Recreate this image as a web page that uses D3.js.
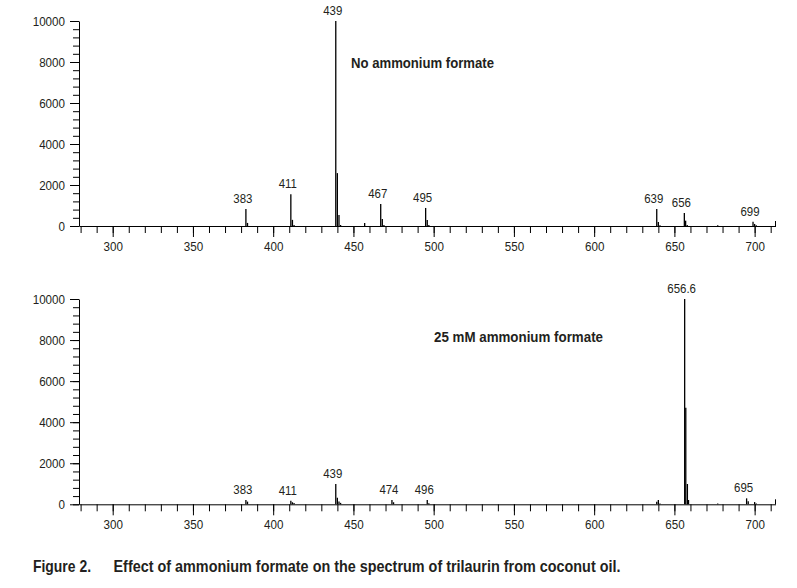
<!DOCTYPE html>
<html><head><meta charset="utf-8">
<script src="https://cdn.jsdelivr.net/npm/d3@7"></script>
<style>
body{margin:0;background:#fff;}
text{font-family:"Liberation Sans",Arial,sans-serif;fill:#231f20;}
</style></head>
<body><svg id="c" width="797" height="588"></svg>
<script>
// ---- data ----
const xMajorTicks = [300, 350, 400, 450, 500, 550, 600, 650, 700];
const yTicks = [0, 2000, 4000, 6000, 8000, 10000];

const topMz = [383, 384, 411, 412, 413, 439, 440, 441, 442, 457, 467, 468, 469, 495, 496, 497, 639, 640, 641, 656.2, 657, 658, 677, 699, 700, 701];
const topIntensity = [830, 150, 1550, 300, 50, 10000, 2580, 540, 50, 150, 1070, 340, 50, 880, 290, 50, 830, 200, 40, 630, 260, 50, 40, 210, 100, 40];
const topLabelText = ["383", "411", "439", "467", "495", "639", "656", "699"];
const topLabelMz = [383, 411, 439, 467, 495, 639, 656.2, 699];
const topTitle = "No ammonium formate";

const botMz = [383, 384, 411, 412, 413, 439, 440, 441, 442, 474, 475, 496, 497, 639, 640, 641, 656.4, 657.1, 658.1, 658.8, 677, 695, 696, 700, 701];
const botIntensity = [210, 130, 175, 100, 60, 990, 320, 140, 70, 210, 100, 210, 50, 120, 210, 40, 10000, 4700, 990, 210, 40, 290, 150, 110, 40];
const botLabelText = ["383", "411", "439", "474", "496", "656.6", "695"];
const botLabelMz = [383, 411, 439, 474, 496, 656.4, 695];
const botTitle = "25 mM ammonium formate";

const captionNum = "Figure 2.";
const captionText = "Effect of ammonium formate on the spectrum of trilaurin from coconut oil.";

// ---- drawing ----
const svg = d3.select("#c");
const x = d3.scaleLinear().domain([279, 713]).range([79, 775.5]);

// squeeze text horizontally to imitate a condensed face
function condense(sel, k) {
  sel.each(function () {
    const w = this.getComputedTextLength();
    d3.select(this).attr("textLength", w * k).attr("lengthAdjust", "spacingAndGlyphs");
  });
}
function fitTo(sel, w) {
  sel.attr("textLength", w).attr("lengthAdjust", "spacingAndGlyphs");
}

function panel(y0, y1, mz, inten, labText, labMz, title, titleX, titleY, titleW) {
  const y = d3.scaleLinear().domain([0, 10000]).range([y0, y1]);
  const g = svg.append("g");
  const yMinor = d3.range(0, 10001, 400);
  g.append("g").attr("transform", "translate(79,0)")
    .call(d3.axisLeft(y).tickValues(yMinor).tickSize(6).tickFormat(""))
    .call(a => a.select(".domain").remove())
    .selectAll("line").attr("stroke", "#000");
  const ya = g.append("g").attr("transform", "translate(79,0)")
    .call(d3.axisLeft(y).tickValues(yTicks).tickSize(9).tickSizeOuter(0).tickPadding(5).tickFormat(d3.format("d")));
  ya.select(".domain").attr("stroke", "#000");
  ya.selectAll("text").attr("font-size", 12.5).attr("font-family", null).attr("fill", "#231f20").call(condense, 0.93);
  const xMinor = d3.range(280, 711, 10);
  g.append("g").attr("transform", `translate(0,${y0})`)
    .call(d3.axisBottom(x).tickValues(xMinor).tickSize(7).tickFormat(""))
    .call(a => a.select(".domain").remove())
    .selectAll("line").attr("stroke", "#000");
  const xa = g.append("g").attr("transform", `translate(0,${y0})`)
    .call(d3.axisBottom(x).tickValues(xMajorTicks).tickSize(11).tickSizeOuter(0).tickPadding(5).tickFormat(d3.format("d")));
  xa.select(".domain").attr("stroke", "#000");
  xa.selectAll("text").attr("font-size", 12.5).attr("font-family", null).attr("fill", "#231f20").call(condense, 0.93);
  g.append("line").attr("x1", x.range()[1]).attr("x2", x.range()[1])
    .attr("y1", y0 - 5).attr("y2", y0).attr("stroke", "#000");
  g.selectAll(".pk").data(mz.map((m, i) => [m, inten[i]])).join("line")
    .attr("x1", d => x(d[0])).attr("x2", d => x(d[0]))
    .attr("y1", y0).attr("y2", d => y(d[1]))
    .attr("stroke", "#000").attr("stroke-width", 1.3);
  g.selectAll(".lb").data(labText.map((t, i) => [t, labMz[i], inten[mz.indexOf(labMz[i])]])).join("text")
    .attr("x", d => x(d[1]) - 3).attr("y", d => y(d[2]) - 6)
    .attr("text-anchor", "middle").attr("font-size", 13)
    .text(d => d[0]).call(condense, 0.88);
  g.append("text").attr("x", titleX).attr("y", titleY)
    .attr("font-size", 15).attr("font-weight", "bold")
    .text(title).call(fitTo, titleW);
}

panel(226, 21, topMz, topIntensity, topLabelText, topLabelMz, topTitle, 351, 68, 143);
panel(504.3, 299, botMz, botIntensity, botLabelText, botLabelMz, botTitle, 434, 342, 169);

svg.append("text").attr("x", 33).attr("y", 572).attr("font-size", 16.5).attr("font-weight", "bold").text(captionNum).call(fitTo, 58);
svg.append("text").attr("x", 113.5).attr("y", 572).attr("font-size", 16.5).attr("font-weight", "bold").text(captionText).call(fitTo, 507);
</script></body></html>
